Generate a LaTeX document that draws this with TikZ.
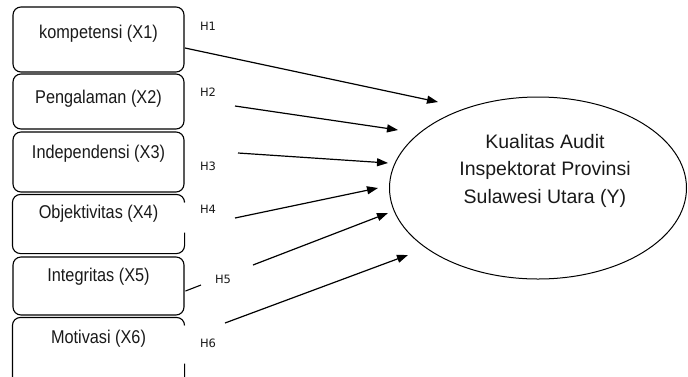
\documentclass[tikz,border=0pt]{standalone}
\usepackage{fontspec}
\setmainfont{Liberation Sans}
\newfontfamily\narrowfont{Liberation Sans}[FakeStretch=0.88]
\newfontfamily\hfont{DejaVu Sans}
\usetikzlibrary{shapes.geometric,arrows.meta,calc}
\definecolor{inkgray}{RGB}{25,25,25}
\tikzset{
  boxtext/.style 2 args={line width=1.1pt, rounded corners=8pt,
    minimum width=171pt, inner xsep=0pt, inner ysep=0pt, anchor=base,
    text height=#1pt, text depth=#2pt, text=inkgray,
    font=\narrowfont\fontsize{18.5}{22}\selectfont},
  varbox/.style 2 args={boxtext={#1}{#2}, draw=black},
  outline/.style={draw=black, line width=1.1pt, rounded corners=8pt},
  hlab/.style={text=inkgray, inner sep=0pt, font=\hfont\fontsize{11.5}{13}\selectfont},
  depnode/.style={draw=black, line width=1pt, ellipse, minimum width=297pt, minimum height=182pt, inner sep=0pt},
  deptext/.style={align=center, text=inkgray, inner sep=0pt,
    font=\fontsize{19.5}{27.5}\selectfont},
  path/.style={draw=black, line width=1.2pt, -{Triangle[length=11pt,width=8pt]}},
  tick/.style={draw=black, line width=1.1pt}
}
\begin{document}
\begin{tikzpicture}[x=1pt,y=-1pt]
\useasboundingbox (0,0) rectangle (688,376);
\clip (0,0) rectangle (688,376);
% variable boxes
\node[varbox={31.5}{33.5}] (b1) at (98.5,38.5) {kompetensi (X1)};
\node[varbox={29.5}{25.5}] (b2) at (98.5,103.5) {Pengalaman (X2)};
\node[varbox={26.5}{33.5}] (b3) at (98.5,158.5) {Independensi (X3)};
\node[boxtext={23.5}{34.5}] (b4) at (98.5,218.5) {Objektivitas (X4)};
\node[varbox={24.5}{33.5}] (b5) at (98.5,281.5) {Integritas (X5)};
\node[boxtext={25.5}{41.5}] (b6) at (98.5,343.5) {Motivasi (X6)};
% outlines of boxes 4 and 6 (right side partly missing)
\draw[outline] ($(b4.north east)+(0,7)$) -- (b4.north east) -- (b4.north west)
  -- (b4.south west) -- (b4.south east) -- ($(b4.south east)+(0,-21)$);
\draw[outline] ($(b6.north east)+(0,8)$) -- (b6.north east) -- (b6.north west)
  -- (b6.south west) -- (b6.south east) -- ($(b6.south east)+(0,-22)$);
% dependent variable
\node[depnode] (y) at (538,188) {};
\node[deptext] (ylab) at (545,170.5) {Kualitas Audit\\Inspektorat Provinsi\\Sulawesi Utara (Y)};
% hypothesis labels
\node[hlab] (h1) at (208,26) {H1};
\node[hlab] (h2) at (208,92) {H2};
\node[hlab] (h3) at (208,166) {H3};
\node[hlab] (h4) at (208,209) {H4};
\node[hlab] (h5) at (223,279) {H5};
\node[hlab] (h6) at (208,343) {H6};
% arrow endpoints
\coordinate (s1) at (185,48);  \coordinate (e1) at (438,102);
\coordinate (s2) at (235,106); \coordinate (e2) at (398,130);
\coordinate (s3) at (238,153); \coordinate (e3) at (388,163);
\coordinate (s4) at (235,218); \coordinate (e4) at (378,188);
\coordinate (s5) at (253,265); \coordinate (e5) at (388,213);
\coordinate (s6) at (225,323); \coordinate (e6) at (408,255);
\coordinate (t1) at (185.5,291); \coordinate (t2) at (201,285);
\draw[path] (s1) -- (e1);
\draw[path] (s2) -- (e2);
\draw[path] (s3) -- (e3);
\draw[path] (s4) -- (e4);
\draw[path] (s5) -- (e5);
\draw[path] (s6) -- (e6);
\draw[tick] (t1) -- (t2);
\end{tikzpicture}
\end{document}
